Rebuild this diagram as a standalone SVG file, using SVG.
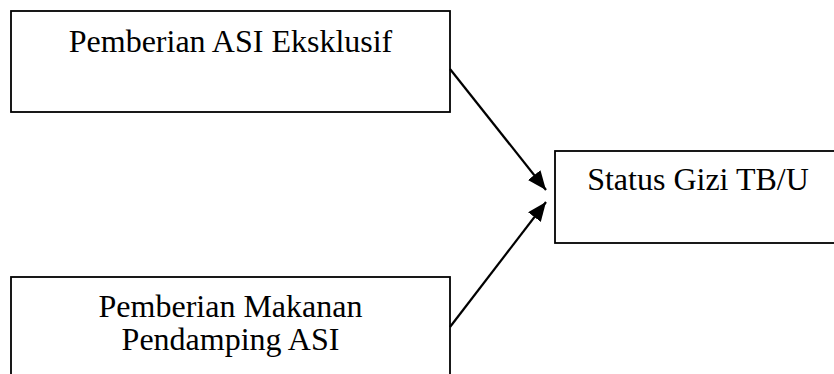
<svg xmlns="http://www.w3.org/2000/svg" width="834" height="374" viewBox="0 0 834 374">
<style>
.box{fill:#fff;stroke:#000;stroke-width:1.8}
.t{font-family:"Liberation Serif","Times New Roman",serif;font-size:32px;fill:#000;text-anchor:middle}
.c{stroke:#000;stroke-width:2.2;fill:none}
</style>
<defs>
<marker id="ah" markerUnits="userSpaceOnUse" markerWidth="22" markerHeight="18" refX="19" refY="8" orient="auto">
<path d="M0,0 L19,8 L0,16 Z" fill="#000"/>
</marker>
</defs>
<rect width="834" height="374" fill="#fff"/>
<g id="node-asi">
<rect class="box" x="11" y="11" width="439" height="101"/>
<text class="t" x="230.5" y="52">Pemberian ASI Eksklusif</text>
</g>
<g id="node-mpasi">
<rect class="box" x="11" y="277" width="439" height="110"/>
<text class="t" x="230.5" y="317">Pemberian Makanan</text>
<text class="t" x="230.5" y="350">Pendamping ASI</text>
</g>
<g id="node-status">
<rect class="box" x="555" y="151" width="290" height="92"/>
<text class="t" x="698" y="190">Status Gizi TB/U</text>
</g>
<g id="connectors">
<line class="c" x1="450" y1="69" x2="546" y2="190" marker-end="url(#ah)"/>
<line class="c" x1="450" y1="327" x2="546" y2="202" marker-end="url(#ah)"/>
</g>
</svg>
